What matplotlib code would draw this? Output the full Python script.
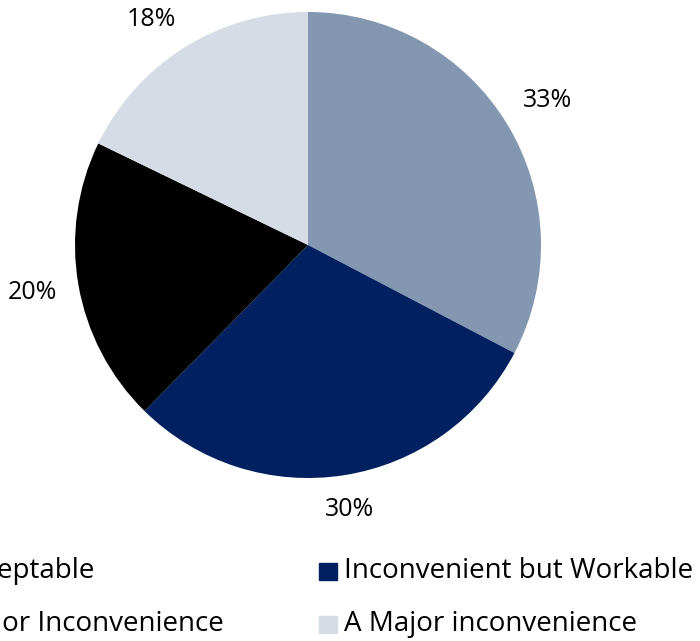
import numpy as np
import matplotlib.pyplot as plt
from matplotlib.patches import Rectangle

plt.rcParams['font.family'] = ['Open Sans', 'DejaVu Sans']

# ── Data ────────────────────────────────────────────────
categories = ['Acceptable', 'Inconvenient but Workable',
              'Minor Inconvenience', 'A Major inconvenience']
values = [33, 30, 20, 18]
labels = ['33%', '30%', '20%', '18%']
colors = ['#8497B0', '#002060', '#000000', '#D6DCE5']

W, H = 700, 641
fig = plt.figure(figsize=(W / 100, H / 100), dpi=100)

# pie centre (308, 245) px, radius 233 px
cx, cy, r = 308, 245, 233
ax = fig.add_axes([(cx - r) / W, (H - cy - r) / H, 2 * r / W, 2 * r / H])
wedges, _ = ax.pie(values, colors=colors, startangle=90, counterclock=False,
                   radius=1, wedgeprops={'linewidth': 0})
ax.set_xlim(-1, 1)
ax.set_ylim(-1, 1)
ax.set_aspect('auto')
ax.axis('off')

# ── Percent labels: outside end, text box kept a fixed gap from the pie ──
hw, hh = 24 / r, 10 / r        # half width / half height of label box
edge = 1.09                     # gap of box edge from centre
ymax = (cy - 19) / r            # keep label inside the top edge
for w, lab in zip(wedges, labels):
    th = np.deg2rad((w.theta1 + w.theta2) / 2)
    c, s = np.cos(th), np.sin(th)
    d = edge + hw * abs(c) + hh * abs(s)
    x, y = d * c, d * s
    if y > ymax:
        y = ymax
        x = np.sign(x) * np.sqrt(d ** 2 - y ** 2)
    ax.text(x, y, lab, fontsize=18, ha='center', va='center', color='black')

# ── Legend (2 columns, cut off at left edge) ─────────────
col_x = [-72, 319]
row_y = [571, 624]
order = [(0, 0), (1, 0), (0, 1), (1, 1)]  # (col, row) for each category
for cat, col, (c, rr) in zip(categories, colors, order):
    x0, y0 = col_x[c], row_y[rr]
    fig.patches.append(Rectangle((x0 / W, (H - y0 - 9) / H), 18 / W, 17 / H,
                                 transform=fig.transFigure, color=col))
    fig.text((x0 + 25) / W, (H - y0) / H, cat, fontsize=20, va='center', ha='left')

plt.savefig('out.png', dpi=100)
